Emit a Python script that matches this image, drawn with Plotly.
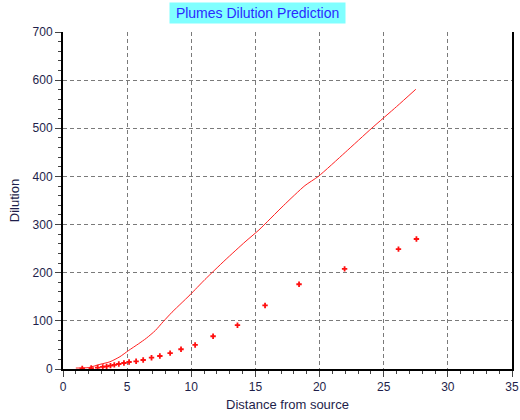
import plotly.graph_objects as go

# Predicted centreline dilution (solid curve)
line_distance = [1.0, 2.0, 2.88, 3.66, 4.44, 5.09, 5.87, 6.5, 7.2, 7.8, 8.5, 9.2, 9.9,
                 11.07, 12.63, 14.19, 15.28, 17.17, 18.86, 19.9, 22.0, 24.06, 26.0, 27.5]
line_dilution = [2, 3, 9.7, 15, 25.6, 38, 52, 64, 80, 98, 118, 136, 154,
                 186, 226, 264, 289, 339, 381, 400, 450, 500, 545, 581]

# Predicted average dilution (cross markers)
pt_distance = [1.5, 2.2, 2.7, 3.1, 3.4, 3.7, 4.0, 4.35, 4.75, 5.15, 5.7, 6.25,
               6.9, 7.55, 8.35, 9.2, 10.3, 11.7, 13.6, 15.75, 18.4, 21.95, 26.15, 27.55]
pt_dilution = [1, 2, 3, 4.5, 5.5, 7, 8.5, 10.4, 12.5, 14.5, 16, 18.7,
               23.5, 27, 33, 41, 50, 68, 91, 132, 176, 208, 249, 270]

x_ticks = [0, 5, 10, 15, 20, 25, 30, 35]
y_ticks = [0, 100, 200, 300, 400, 500, 600, 700]

text_col = "#1e1e4a"
font = dict(family="Liberation Sans, Arial, sans-serif", size=12, color=text_col)
title_font = dict(family="Liberation Sans, Arial, sans-serif", size=13, color=text_col)

fig = go.Figure()
fig.add_trace(go.Scatter(x=line_distance, y=line_dilution, mode="lines",
                         line=dict(color="#ff2020", width=1, shape="spline", smoothing=0.6),
                         showlegend=False))
fig.add_trace(go.Scatter(x=pt_distance, y=pt_dilution, mode="markers",
                         marker=dict(symbol="cross", size=4.5, color="#ff1010",
                                     line=dict(width=0)), showlegend=False))

axis_common = dict(
    showgrid=True, gridcolor="#7a7a7a", gridwidth=1, griddash="4px,3px",
    zeroline=False, showline=True, linecolor="black", linewidth=2,
    ticks="outside", ticklen=6, tickcolor="#444", tickwidth=1,
    tickfont=font, title_font=title_font, automargin=False,
)

fig.update_xaxes(range=[0, 35], tickvals=x_ticks, ticktext=[str(v) for v in x_ticks],
                 title_text="Distance from source", title_standoff=6,
                 minor=dict(dtick=1, ticks="outside", ticklen=3, tickcolor="#444",
                            showgrid=False),
                 **axis_common)
fig.update_yaxes(range=[0, 700], tickvals=y_ticks, ticktext=[str(v) for v in y_ticks],
                 title_text="Dilution", title_standoff=10, mirror=True,
                 minor=dict(dtick=20, ticks="outside", ticklen=3, tickcolor="#444",
                            showgrid=False),
                 **axis_common)

fig.add_annotation(text="\u00a0Plumes Dilution Prediction\u00a0", xref="paper", yref="paper",
                   x=0.433, y=1.0, xanchor="center", yanchor="bottom", yshift=8,
                   showarrow=False, bgcolor="#80ffff", borderpad=2,
                   font=dict(family="Liberation Sans, Arial, sans-serif", size=14,
                             color="#2a2aff"))

fig.update_layout(width=520, height=420, margin=dict(l=63, r=8, t=32, b=51),
                  plot_bgcolor="white", paper_bgcolor="white")

fig.write_html("out.html")
